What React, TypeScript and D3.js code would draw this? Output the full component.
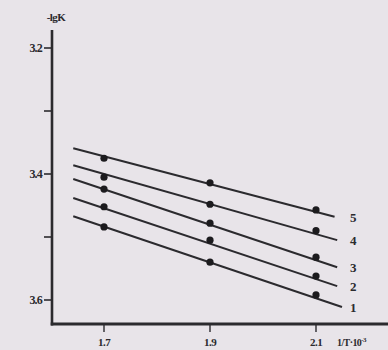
import React from "react";
import * as d3 from "d3";

const xTicks = [1.7, 1.9, 2.1];
const xTickLabels = ["1.7", "1.9", "2.1"];
const yTicks = [3.2, 3.3, 3.4, 3.5, 3.6];
const yTickLabels = ["3.2", "", "3.4", "", "3.6"];

const seriesNames = ["1", "2", "3", "4", "5"];
const pointX = [1.7, 1.9, 2.1];
const s1 = [3.484, 3.54, 3.592];
const s2 = [3.452, 3.505, 3.562];
const s3 = [3.424, 3.478, 3.532];
const s4 = [3.405, 3.448, 3.49];
const s5 = [3.375, 3.414, 3.457];
const seriesValues = [s1, s2, s3, s4, s5];

const lineStartX = [1.642, 1.642, 1.642, 1.642, 1.642];
const lineStartY = [3.467, 3.438, 3.408, 3.386, 3.359];
const lineEndX = [2.149, 2.14, 2.14, 2.14, 2.135];
const lineEndY = [3.611, 3.578, 3.548, 3.505, 3.468];

const W = 388;
const H = 350;
const ink = "#2b2a2e";

export default function App() {
  const x = d3.scaleLinear().domain([1.7, 2.1]).range([104, 316]);
  const y = d3.scaleLinear().domain([3.2, 3.6]).range([48, 300]);
  const axisX0 = 52;
  const axisY0 = 324;
  const line = d3.line<[number, number]>().x((d) => x(d[0])).y((d) => y(d[1]));
  const font = "'Liberation Serif', 'DejaVu Serif', serif";

  return (
    <svg
      width={W}
      height={H}
      style={{ position: "absolute", left: 0, top: 0, background: "#e8e4e9" }}
    >
      <rect x={0} y={0} width={W} height={H} fill="#e8e4e9" />
      {/* axes */}
      <line x1={axisX0} y1={30} x2={axisX0} y2={axisY0 + 1.5} stroke={ink} strokeWidth={2.6} />
      <line x1={axisX0 - 1.3} y1={axisY0} x2={W} y2={axisY0} stroke={ink} strokeWidth={2.8} />
      {yTicks.map((t, i) => (
        <g key={"yt" + i}>
          <line x1={axisX0 - 8} y1={y(t)} x2={axisX0} y2={y(t)} stroke={ink} strokeWidth={1.6} />
          {yTickLabels[i] && (
            <text
              x={axisX0 - 10}
              y={y(t) + 4}
              textAnchor="end"
              fontFamily={font}
              fontSize={12}
              fontWeight="bold"
              fill={ink}
              letterSpacing={-0.8}
            >
              {yTickLabels[i]}
            </text>
          )}
        </g>
      ))}
      {xTicks.map((t, i) => (
        <g key={"xt" + i}>
          <line x1={x(t)} y1={axisY0} x2={x(t)} y2={axisY0 + 8} stroke={ink} strokeWidth={1.4} />
          <text
            x={x(t)}
            y={346}
            textAnchor="middle"
            fontFamily={font}
            fontSize={11}
            fontWeight="bold"
            fill={ink}
            letterSpacing={-0.5}
          >
            {xTickLabels[i]}
          </text>
        </g>
      ))}
      <text x={56} y={21} textAnchor="middle" fontFamily={font} fontSize={11} fontWeight="bold" fill={ink} letterSpacing={-0.6}>
        -lgK
      </text>
      <text x={337} y={346} fontFamily={font} fontSize={10} fontWeight="bold" fill={ink} letterSpacing={-0.6}>
        1/T·10
        <tspan dy={-4} fontSize={7}>-3</tspan>
      </text>
      {/* series */}
      {seriesValues.map((vals, i) => (
        <g key={"s" + i}>
          <path
            d={line([[lineStartX[i], lineStartY[i]], [lineEndX[i], lineEndY[i]]]) || ""}
            stroke={ink}
            strokeWidth={2}
            fill="none"
          />
          {vals.map((v, j) => (
            <circle key={j} cx={x(pointX[j])} cy={y(v)} r={3.6} fill="#1c1b1e" />
          ))}
          <text
            x={350}
            y={y(lineEndY[i]) + 5}
            fontFamily={font}
            fontSize={13}
            fontWeight="bold"
            fill={ink}
          >
            {seriesNames[i]}
          </text>
        </g>
      ))}
    </svg>
  );
}
